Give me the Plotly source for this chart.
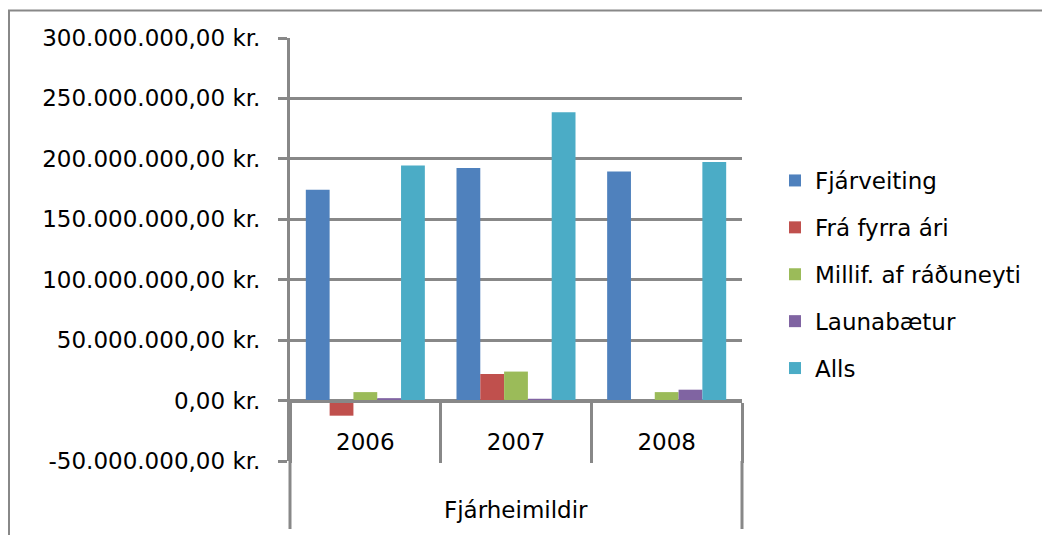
import plotly.graph_objects as go

# categories and values (kr.)
years = ["2006", "2007", "2008"]
group_label = "Fjárheimildir"

fjarveiting = [174.5e6, 192.5e6, 189.5e6]
fra_fyrra_ari = [-12.5e6, 22.0e6, 0.0]
millif_raduneyti = [7.0e6, 24.0e6, 7.0e6]
launabaetur = [2.0e6, 1.5e6, 9.0e6]
alls = [194.5e6, 238.5e6, 197.5e6]

series_names = ["Fjárveiting", "Frá fyrra ári", "Millif. af ráðuneyti", "Launabætur", "Alls"]
series_values = [fjarveiting, fra_fyrra_ari, millif_raduneyti, launabaetur, alls]
colors = ["#4F81BD", "#C0504D", "#9BBB59", "#8064A2", "#4BACC6"]

y_ticks = [-50e6, 0, 50e6, 100e6, 150e6, 200e6, 250e6, 300e6]
y_min, y_max = -50e6, 300e6


def kr(v):
    # 300.000.000,00 kr.
    s = f"{v:,.2f}".replace(",", "X").replace(".", ",").replace("X", ".")
    return s + " kr."


y_ticktext = [kr(v) for v in y_ticks]

# page geometry (the page body adds an 8px offset)
OFF = 8
W, H = 1050 - OFF, 535 - OFF
L, R, T, B = 282, 308, 30, 74
pw = W - L - R
ph = H - T - B
GRAY = "#888888"
FONT = dict(family="DejaVu Sans", size=23, color="black")


def px_x(x):
    # screen x -> paper
    return (x - OFF - L) / pw


def px_y(y):
    # screen y -> paper
    return (H - B - (y - OFF)) / ph


fig = go.Figure()
for i, (name, vals) in enumerate(zip(series_names, series_values)):
    fig.add_trace(go.Bar(
        x=years, y=vals, name=name,
        marker=dict(color=colors[i], line=dict(width=0)),
        legendgroup=f"g{i}",
    ))

fig.update_layout(
    template="none",
    width=W, height=H,
    margin=dict(l=L, r=R, t=T, b=B, pad=0),
    paper_bgcolor="white", plot_bgcolor="white",
    font=FONT,
    barmode="group", bargap=0.21, bargroupgap=0,
    showlegend=True,
    legend=dict(
        x=px_x(775), y=px_y(159), xanchor="left", yanchor="top",
        font=FONT, traceorder="grouped", tracegroupgap=14,
        bgcolor="rgba(0,0,0,0)", borderwidth=0,
    ),
)

fig.update_yaxes(
    range=[y_min, y_max], tickmode="array", tickvals=y_ticks, ticktext=y_ticktext,
    showgrid=True, gridcolor=GRAY, gridwidth=3,
    showline=True, linecolor=GRAY, linewidth=3,
    ticks="outside", ticklen=9, tickwidth=3, tickcolor=GRAY,
    ticklabelstandoff=13, zeroline=False, automargin=False,
    tickfont=FONT,
)

fig.update_xaxes(
    type="category", categoryorder="array", categoryarray=years,
    anchor="free", position=(0 - y_min) / (y_max - y_min),
    showgrid=False, zeroline=False,
    showline=True, linecolor=GRAY, linewidth=3,
    ticks="outside", tickson="boundaries", ticklen=60, tickwidth=3, tickcolor=GRAY,
    ticklabelstandoff=20, tickfont=FONT,
    automargin=False,
)

# group label under the years
fig.add_annotation(text=group_label, xref="x domain", yref="paper",
                   x=0.5, y=px_y(510), xanchor="center", yanchor="middle",
                   showarrow=False, font=FONT)

# chart border and outer dividers of the category axis
fig.add_shape(type="rect", xref="paper", yref="paper",
              x0=px_x(9), x1=px_x(1070), y0=px_y(560), y1=px_y(10.5),
              line=dict(color=GRAY, width=2), fillcolor="rgba(0,0,0,0)", layer="below")
for xd in (0, 1):
    fig.add_shape(type="line", xref="x domain", yref="paper",
                  x0=xd, x1=xd, y0=0, y1=px_y(529),
                  line=dict(color=GRAY, width=3))

fig.write_html("out.html")
